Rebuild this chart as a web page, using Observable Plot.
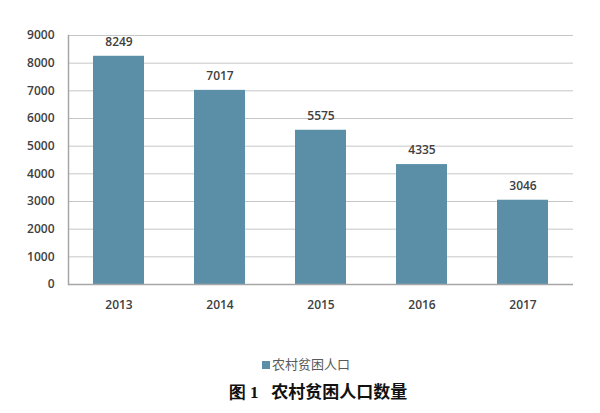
<!DOCTYPE html>
<html><head><meta charset="utf-8">
<script src="https://cdn.jsdelivr.net/npm/d3@7"></script>
<script src="https://cdn.jsdelivr.net/npm/@observablehq/plot@0.6"></script>
<style>
body{margin:0;background:#fff;width:600px;}
#legend{height:22px;margin-top:24px;text-align:center;font-family:"Noto Sans CJK SC",sans-serif;font-size:13px;color:#595959;padding-left:12px;}
#legend span.sw{display:inline-block;width:8px;height:8px;background:#5b8fa8;margin-right:2px;vertical-align:0px;}
#caption{text-align:center;font-size:17px;font-weight:bold;color:#111;margin-top:2px;padding-left:36px;}
#caption .n{font-family:"Liberation Serif",serif;}
#caption .t{font-family:"Noto Sans CJK SC",sans-serif;}
</style></head>
<body>
<div id="chart"></div>
<div id="legend"><span class="sw"></span>农村贫困人口</div>
<div id="caption"><span class="n">图 1</span>&nbsp;&nbsp; <span class="t">农村贫困人口数量</span></div>
<script>
const years = ["2013","2014","2015","2016","2017"];
const values = [8249, 7017, 5575, 4335, 3046];
const yTicks = [0,1000,2000,3000,4000,5000,6000,7000,8000,9000];
const seriesName = "农村贫困人口";
const data = years.map((y,i)=>({year:y, value:values[i]}));
const plot = Plot.plot({
  width: 600, height: 330,
  marginTop: 35, marginBottom: 46, marginLeft: 68, marginRight: 27,
  style:{fontFamily:"'Open Sans', sans-serif", fontSize:"12px", color:"#404040", background:"#fff"},
  x:{domain:years, paddingInner:0.5, paddingOuter:0.25, label:null},
  y:{domain:[0,9000], label:null},
  marks:[
    Plot.gridY(yTicks,{stroke:"#c6c6c6", strokeOpacity:1, strokeWidth:1}),
    Plot.barY(data,{x:"year", y:"value", fill:"#5b8fa8"}),
    Plot.text(data,{x:"year", y:"value", text:d=>String(d.value), dy:-14, fill:"#404040", fontSize:12, fontWeight:600}),
    Plot.axisY(yTicks,{tickSize:0, tickPadding:14, tickFormat:d=>String(d), fontWeight:600, fill:"#404040", fontSize:12}),
    Plot.axisX({tickSize:0, tickPadding:16, fontWeight:600, fill:"#404040", fontSize:12}),
    Plot.ruleY([0],{stroke:"#a6a6a6", strokeWidth:1.5}),
    Plot.frame({anchor:"left", stroke:"#a6a6a6", strokeWidth:1.5})
  ]
});
document.getElementById("chart").appendChild(plot);
</script>
</body></html>
